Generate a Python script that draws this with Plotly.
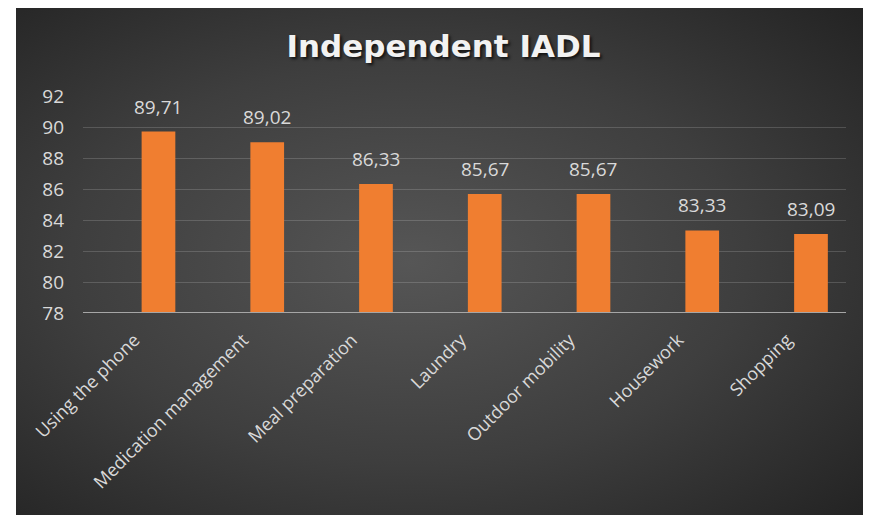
import base64
import plotly.graph_objects as go

categories = ["Using the phone", "Medication management", "Meal preparation",
              "Laundry", "Outdoor mobility", "Housework", "Shopping"]
values = [89.71, 89.02, 86.33, 85.67, 85.67, 83.33, 83.09]
y_ticks = [78, 80, 82, 84, 86, 88, 90, 92]
title_text = "Independent IADL"

# page body has an 8px margin, so figure coordinates = reference - 8
OFF = 8
W, H = 871 - OFF, 515 - OFF
L, R, T, B = 83 - OFF, W - (846 - OFF), 96 - OFF, H - (313 - OFF)
pw, ph = W - L - R, H - T - B

bx0 = 16 - OFF
bw, bh = W - bx0, H
svg = (f'<svg xmlns="http://www.w3.org/2000/svg" width="{bw}" height="{bh}" viewBox="0 0 {bw} {bh}" preserveAspectRatio="none">'
       '<defs><radialGradient id="g" cx="0.46" cy="0.5" r="0.72">'
       '<stop offset="0" stop-color="#565656"/>'
       '<stop offset="0.55" stop-color="#3e3e3e"/>'
       '<stop offset="1" stop-color="#242424"/>'
       '</radialGradient></defs>'
       f'<rect width="{bw}" height="{bh}" fill="url(#g)"/></svg>')
src = "data:image/svg+xml;base64," + base64.b64encode(svg.encode()).decode()

fig = go.Figure()
fig.add_trace(go.Bar(
    x=categories, y=values, width=0.31,
    marker=dict(color="#F07E30", line=dict(width=0)),
    hoverinfo="skip",
))

for c, v in zip(categories, values):
    fig.add_annotation(x=c, y=v, text=f"{v:.2f}".replace(".", ","),
                       showarrow=False, yanchor="bottom", yshift=10,
                       font=dict(family="Open Sans", size=19, color="#d9d9d9"))

fig.update_layout(
    width=W, height=H,
    margin=dict(l=L, r=R, t=T, b=B, pad=0),
    paper_bgcolor="white",
    plot_bgcolor="rgba(0,0,0,0)",
    showlegend=False,
    title=dict(text=f"<b>{title_text}</b>", x=(443.5 - OFF - L) / pw, xref="paper", xanchor="center",
               y=1 - (46 - OFF) / H, yref="container", yanchor="middle",
               font=dict(family="DejaVu Sans", size=31, color="#f2f2f2",
                         shadow="2px 2px 3px rgba(0,0,0,0.7)")),
    images=[dict(source=src, xref="paper", yref="paper",
                 x=(bx0 - L) / pw, y=1 + T / ph,
                 sizex=bw / pw, sizey=bh / ph,
                 xanchor="left", yanchor="top", sizing="stretch", layer="below")],
    xaxis=dict(type="category", range=[-0.694, 6.322], tickangle=-45,
               showgrid=False, showline=False, ticks="", zeroline=False,
               ticklabelstandoff=12, ticklabelshift=-24,
               tickfont=dict(family="Open Sans", size=18, color="#d9d9d9")),
    yaxis=dict(range=[78, 92], tickvals=y_ticks, showgrid=True,
               gridcolor="rgba(255,255,255,0.16)", gridwidth=1, zeroline=False,
               showline=False, ticks="", ticklabelstandoff=18,
               tickfont=dict(family="Open Sans", size=19, color="#d9d9d9")),
    shapes=[dict(type="line", xref="paper", yref="y", x0=0, x1=1, y0=78, y1=78,
                 line=dict(color="#a6a6a6", width=2), layer="above")],
)

fig.write_html("out.html")
